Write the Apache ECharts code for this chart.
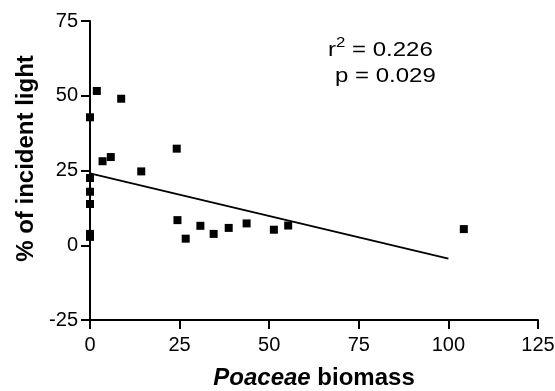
<!DOCTYPE html>
<html>
<head>
<meta charset="utf-8">
<script src="https://cdn.jsdelivr.net/npm/echarts@6/dist/echarts.min.js"></script>
<style>
  html, body { margin: 0; padding: 0; background: #fff; }
  #chart { width: 555px; height: 391px; }
</style>
</head>
<body>
<div id="chart"></div>
<script>
// biomass vs light
const biomass = [1.9, 0, 8.7, 3.5, 5.8, 14.3, 24.2, 0, 0, 0, 0, 0, 24.4, 26.7, 30.8, 34.5, 38.7, 43.7, 51.3, 55.3, 104.3];
const light = [51.6, 42.8, 49.0, 28.1, 29.5, 24.7, 32.3, 22.5, 17.9, 13.8, 3.8, 2.8, 8.4, 2.2, 6.5, 3.8, 5.8, 7.3, 5.2, 6.6, 5.4];

// regression line end points
const fitX = [0, 100];
const fitY = [24.0, -4.5];

const xTicks = [0, 25, 50, 75, 100, 125];
const yTicks = [-25, 0, 25, 50, 75];

const font = "Liberation Sans";
const chart = echarts.init(document.getElementById("chart"));

const axisStyle = {
  axisLine: { onZero: false, lineStyle: { color: "#000", width: 2 } },
  axisTick: { length: 9, lineStyle: { color: "#000", width: 2 } },
  axisLabel: { color: "#000", fontSize: 20, fontFamily: font },
  splitLine: { show: false }
};

chart.setOption({
  animation: false,
  grid: { left: 90, right: 17, top: 21, bottom: 71, outerBoundsMode: "none" },
  xAxis: {
    type: "value",
    min: xTicks[0],
    max: xTicks[xTicks.length - 1],
    interval: 25,
    ...axisStyle,
    axisLabel: { ...axisStyle.axisLabel, margin: 15 },
    name: "{i|Poaceae}{b| biomass}",
    nameLocation: "middle",
    nameGap: 46,
    nameTextStyle: {
      rich: {
        i: { fontSize: 24, fontWeight: "bold", fontStyle: "italic", fontFamily: font, color: "#000" },
        b: { fontSize: 24, fontWeight: "bold", fontFamily: font, color: "#000" }
      }
    }
  },
  yAxis: {
    type: "value",
    min: yTicks[0],
    max: yTicks[yTicks.length - 1],
    interval: 25,
    ...axisStyle,
    axisLabel: { ...axisStyle.axisLabel, margin: 12 },
    name: "% of incident light",
    nameLocation: "middle",
    nameGap: 49,
    nameTextStyle: {
      fontSize: 24, fontWeight: "bold", fontFamily: font, color: "#000",
      padding: [0, 0, 0, 24]
    }
  },
  series: [
    {
      type: "scatter",
      symbol: "rect",
      symbolSize: 8,
      itemStyle: { color: "#000", opacity: 1 },
      data: biomass.map((x, i) => [x, light[i]]),
      z: 3
    },
    {
      type: "line",
      showSymbol: false,
      lineStyle: { color: "#000", width: 1.8 },
      data: fitX.map((x, i) => [x, fitY[i]]),
      z: 2
    }
  ],
  graphic: [
    {
      type: "text",
      x: 328,
      y: 36,
      scaleX: 1.2,
      style: {
        text: "{a|r}{s|2}{a| = 0.226}",
        verticalAlign: "top",
        rich: {
          a: { fontSize: 20, fontFamily: font, fill: "#000", lineHeight: 24, verticalAlign: "bottom" },
          s: { fontSize: 14, fontFamily: font, fill: "#000", lineHeight: 22, verticalAlign: "top" }
        }
      }
    },
    {
      type: "text",
      x: 335,
      y: 66,
      scaleX: 1.2,
      style: { text: "p = 0.029", fontSize: 20, fontFamily: font, fill: "#000", verticalAlign: "top" }
    }
  ]
});

window.addEventListener("resize", () => chart.resize());
</script>
</body>
</html>
